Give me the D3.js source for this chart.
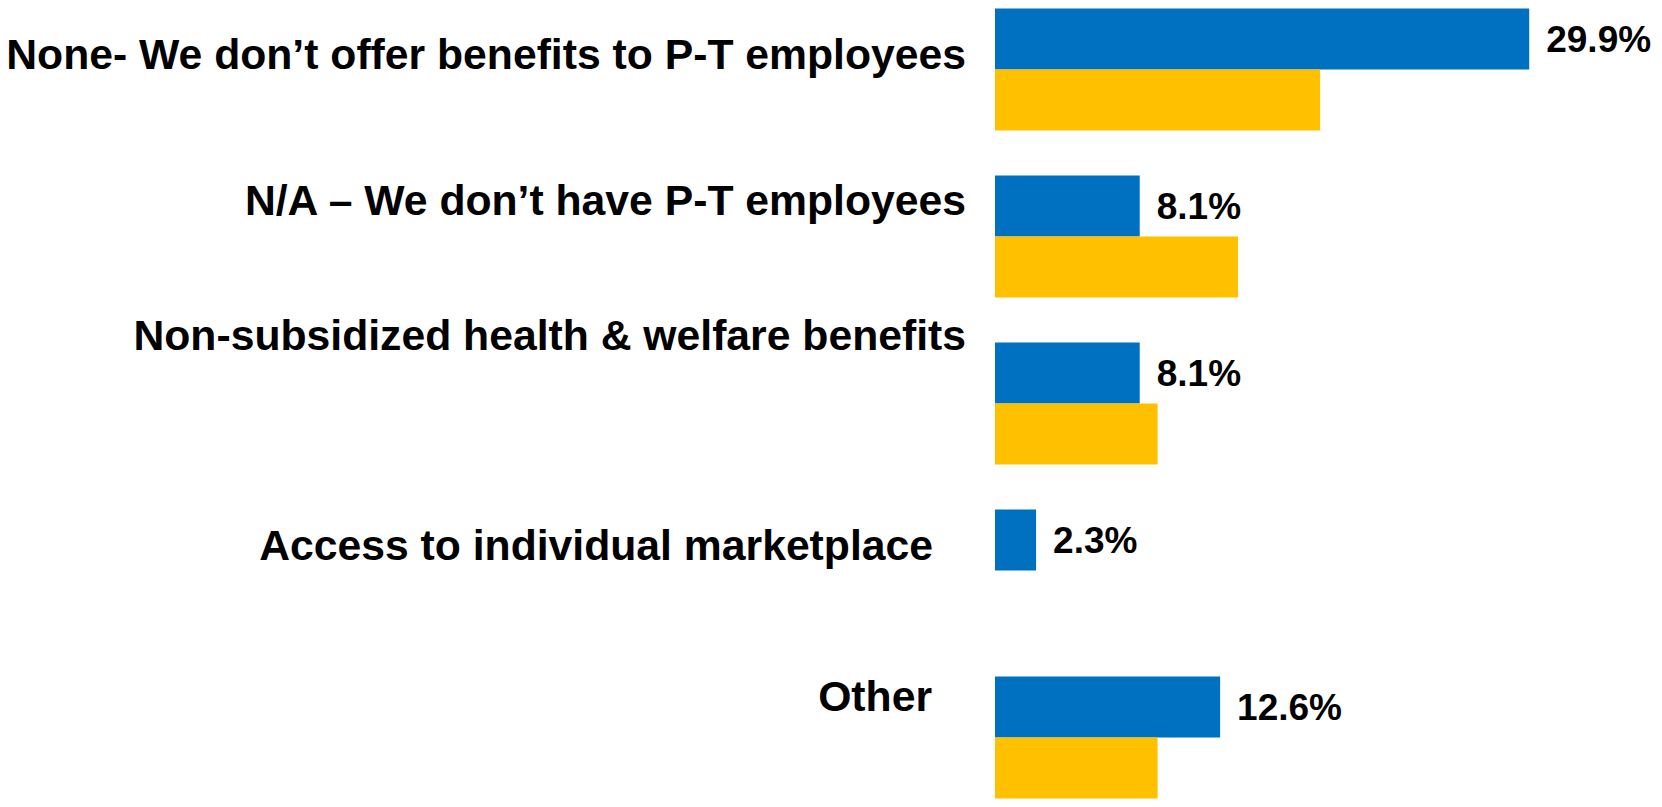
<!DOCTYPE html>
<html>
<head>
<meta charset="utf-8">
<script src="https://cdn.jsdelivr.net/npm/d3@7"></script>
<style>
  html, body { margin: 0; padding: 0; background: #ffffff; }
  svg { display: block; }
  text { font-family: "Liberation Sans", Arial, Helvetica, sans-serif; font-weight: bold; fill: #000; }
</style>
</head>
<body>
<svg id="chart" width="1662" height="807"></svg>
<script>
// Survey responses: benefits offered to part-time employees
const categories = [
  "None- We don\u2019t offer benefits to P-T employees",
  "N/A \u2013 We don\u2019t have P-T employees",
  "Non-subsidized health & welfare benefits",
  "Access to individual marketplace",
  "Other"
];
const seriesNames = ["current", "prior"];
const currentValues = [29.9, 8.1, 8.1, 2.3, 12.6];   // labelled series (blue)
const priorValues   = [18.2, 13.6, 9.1, 0, 9.1];     // comparison series (gold)
const valueLabels   = ["29.9%", "8.1%", "8.1%", "2.3%", "12.6%"];

// Layout
const barLeft = 995;
const colors = { current: "#0070C0", prior: "#FFC000" };
// hand-placed category label boxes: horizontal end and vertical shift per row
const labelRight = [966, 966, 966, 933, 932];
const labelShift = [14.5, -6.5, -38.5, 5, -11.5];

const svg = d3.select("#chart");

const x = d3.scaleLinear().domain([0, 30]).range([0, 536]);

const y = d3.scaleBand()
  .domain(categories)
  .range([8.5, 798.5])
  .paddingInner(45 / 167)
  .paddingOuter(0);

const ySub = d3.scaleBand()
  .domain(seriesNames)
  .range([0, y.bandwidth()]);

const rows = categories.map((c, i) => ({
  category: c,
  i: i,
  values: [
    { key: "current", value: currentValues[i] },
    { key: "prior", value: priorValues[i] }
  ]
}));

const groups = svg.selectAll("g.row")
  .data(rows)
  .join("g")
  .attr("class", "row")
  .attr("transform", d => `translate(0,${y(d.category)})`);

groups.selectAll("rect")
  .data(d => d.values.filter(v => v.value > 0))
  .join("rect")
  .attr("x", barLeft)
  .attr("y", v => ySub(v.key))
  .attr("width", v => x(v.value))
  .attr("height", ySub.bandwidth())
  .attr("fill", v => colors[v.key]);

// value labels beside the blue bars
groups.append("text")
  .attr("x", d => barLeft + x(d.values[0].value) + 17)
  .attr("y", ySub("current") + ySub.bandwidth() / 2)
  .attr("dy", "0.36em")
  .attr("font-size", 37)
  .text(d => valueLabels[d.i]);

// category labels, right-aligned to the left of the bars
groups.append("text")
  .attr("x", d => labelRight[d.i])
  .attr("y", d => ySub("current") + ySub.bandwidth() / 2 + labelShift[d.i])
  .attr("dy", "0.36em")
  .attr("text-anchor", "end")
  .attr("font-size", 42.7)
  .text(d => d.category);
</script>
</body>
</html>
